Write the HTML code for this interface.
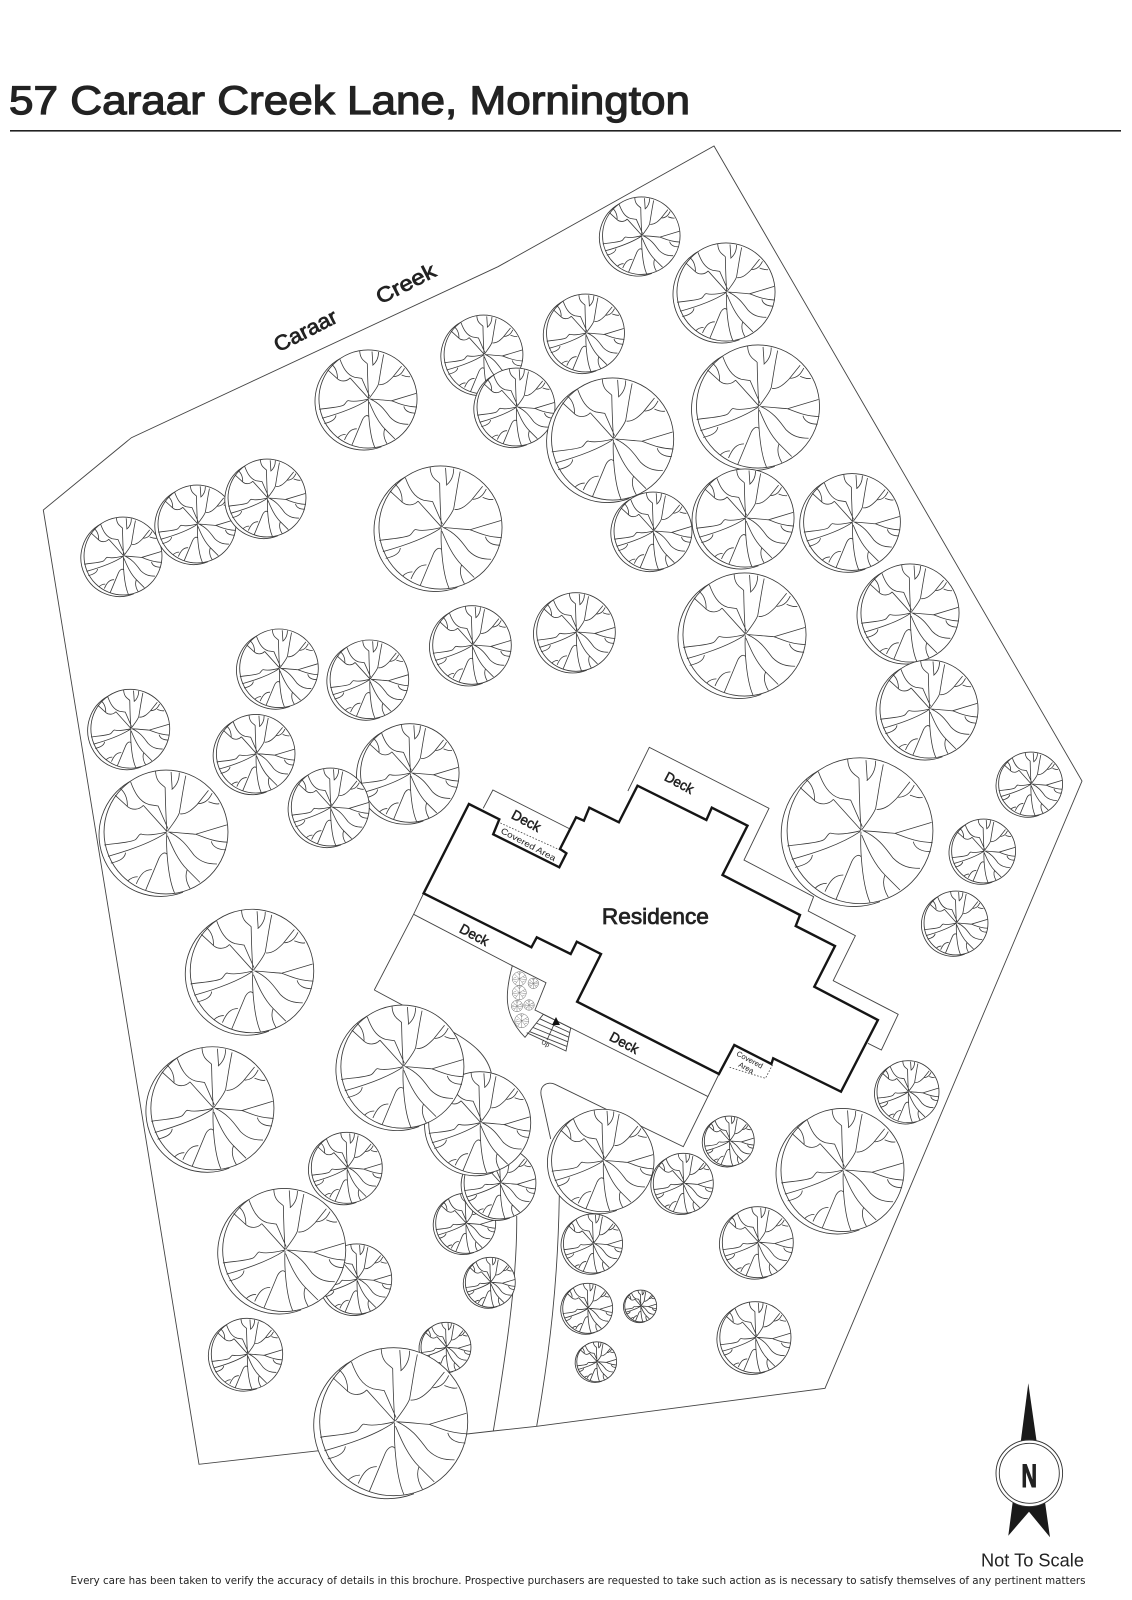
<!DOCTYPE html>
<html><head><meta charset="utf-8"><title>57 Caraar Creek Lane, Mornington</title>
<style>
html,body{margin:0;padding:0;background:#fff}
svg{display:block}
text{font-family:"Liberation Sans",sans-serif;fill:#222}
.l{fill:none;stroke:#444;stroke-width:.9}
.h{fill:none;stroke:#151515;stroke-width:2.4;stroke-linejoin:miter}
.b{text-anchor:middle;stroke:#222;stroke-width:.5}
.tc{fill:#fff;stroke:#3a3a3a;stroke-width:.85;vector-effect:non-scaling-stroke}
.tl{fill:none;stroke:#3a3a3a;stroke-width:.8;vector-effect:non-scaling-stroke}
.pc{fill:#fff;stroke:#666;stroke-width:.5;vector-effect:non-scaling-stroke}
.pl{fill:none;stroke:#666;stroke-width:.4;vector-effect:non-scaling-stroke}
</style></head>
<body>
<svg width="1132" height="1600" viewBox="0 0 1132 1600" xmlns="http://www.w3.org/2000/svg">
<defs>
<g id="t">
<path class="tc" d="M-125,-180A217.7,217.7 0 0 0 60,213"/>
<circle class="tc" cx="0" cy="0" r="219"/>
<path class="tl" d="M3,-4C0,-50-2,-100-3,-157C-10,-167-35,-172-37,-215M18,-212L22,-150M47,-210C47,-182 35,-162 20,-150M70,-199C60,-152 55,-112 47,-67C40,-47 22,-27 5,-2M50,-64C75,-62 95,-82 110,-97L150,-147M115,-100C145,-102 155,-122 163,-137M150,-107C165,-102 175,-97 188,-100M3,-2L-80,-94M-125,-177C-112,-142-95,-107-60,-97L-28,-92L7,-12M-80,-94C-95,-77-120,-77-135,-89L-180,-130M-162,-154C-140,-137-135,-107-137,-89M-218,46C-180,40-130,38-110,28C-100,23-95,3-85,8C-65,13-30,8 3,0M-205,86C-140,68-60,43 0,3M-143,73C-145,93-165,103-195,110M8,0C50,3 80,6 105,8L215,-25M105,8C135,18 160,33 218,36M160,33C165,53 185,63 212,63M10,0C60,23 80,58 100,83C125,108 150,113 180,113M3,3C0,48 5,158 30,215M5,13C20,48 40,98 75,133L120,178M75,133C65,158 75,183 85,200M-72,206L-25,93C-18,78-5,68 3,78M-50,133C-75,133-90,148-105,183M-100,158C-120,158-130,168-135,173"/>
</g>
<g id="p">
<circle class="pc" r="219"/>
<path class="pl" d="M0,0L0,-219M0,0L190,-110M0,0L219,30M0,0L130,175M0,0L0,219M0,0L-130,175M0,0L-219,40M0,0L-160,-150M0,-120L60,-200M0,-120L-60,-200M110,-60L190,-30M80,110L170,70M-80,110L-170,70M-100,-50L-190,-10"/>
</g>
</defs>

<rect width="1132" height="1600" fill="#fff"/>

<text x="9" y="114" font-size="40" textLength="681" lengthAdjust="spacingAndGlyphs" stroke="#222" stroke-width="1.2">57 Caraar Creek Lane, Mornington</text>
<rect x="10" y="130" width="1111" height="1.6" fill="#222"/>

<!-- boundary -->
<path class="l" d="M714,146L1082,781L825,1388.3L536.7,1426.3L493.3,1431L199,1464.3L43.3,510L131.4,437.7L498,266.7Z"/>

<!-- driveway -->
<path class="l" d="M374.3,990L453,1032C472,1043 488,1055 491.7,1075"/>
<path class="l" d="M516.7,1216C517.5,1280 505,1360 493.3,1431"/>
<path class="l" d="M559.3,1196C558,1280 550,1350 536.7,1426"/>
<path class="l" d="M550.7,1139L541.7,1098C538,1085 548,1081 555,1084.3L683.3,1146.7L719,1074"/>

<!-- decks -->
<path class="l" d="M483.2,808.3L492.9,790L570,829"/>
<path class="l" d="M627.9,791L649.3,747.3L769,808.3L744,860L813.6,896.7L808.2,911L855.4,935.7L833.2,980.7L898.2,1014.3L881.4,1050L867.9,1043.3"/>
<path class="l" d="M423.6,893.3L413.6,914.3L374.3,990"/>
<path class="l" d="M413.6,914.3L512.3,965.7L546,982.7L535,1010L708.2,1096.7"/>
<path class="l" d="M512.3,965.7C505,993 503,1015 525,1037.3L543.3,1014.3"/>
<path class="l" d="M543.3,1014.3L570.7,1028L566,1051L526.7,1032.7M539.9,1018.8L569.8,1032.6M536.5,1023.1L568.8,1037.2M533.1,1027.5L567.9,1041.8M529.8,1031.7L566.9,1046.4"/>
<path fill="none" stroke="#333" stroke-width=".8" d="M547,1040L556,1020"/>
<path fill="#111" d="M556,1017L552,1025L560,1025Z"/>
<text font-size="6.5" text-anchor="middle" transform="translate(544.5,1045.5) rotate(28)">Up</text>

<use href="#p" transform="translate(519.3 978.7) scale(.032)"/>
<use href="#p" transform="translate(533.3 983.3) scale(.024)"/>
<use href="#p" transform="translate(519.3 992.7) scale(.032)"/>
<use href="#p" transform="translate(517 1006) scale(.026)"/>
<use href="#p" transform="translate(529 1005) scale(.024)"/>
<use href="#p" transform="translate(521.7 1020.7) scale(.032)"/>

<!-- dotted covered lines -->
<path fill="none" stroke="#444" stroke-width=".8" stroke-dasharray="1.6 1.6" d="M497.5,821.7L560,850M729.6,1067.3L765.4,1078.3L772.5,1065"/>

<!-- house -->
<path class="h" d="M468.9,804L499.3,819.3L493.2,834.3L559.3,867.3L566.4,853.3L560,849L576.1,817.3L583.9,820.7L589.3,807.7L618.9,822.3L637.5,785.7L706.4,820L711.8,807.7L747.5,825.7L722.5,875L800,915L795.7,926L835,946L814.3,986.7L877.9,1020L841,1091.7L773.2,1058.3L771.4,1064L734.3,1045L718.9,1074L577.1,1001.7L601,954L576.8,941.7L570.7,954L536.8,937.3L531.4,947.3L423.6,893.3Z"/>

<!-- trees -->
<use href="#t" transform="translate(641.3 235.7) scale(.177)"/>
<use href="#t" transform="translate(726 292) scale(.224)"/>
<use href="#t" transform="translate(585.5 333) scale(.178)"/>
<use href="#t" transform="translate(483.5 354.5) scale(.18)"/>
<use href="#t" transform="translate(516 407) scale(.178)"/>
<use href="#t" transform="translate(612.6 439) scale(.279)"/>
<use href="#t" transform="translate(758 406.5) scale(.281)"/>
<use href="#t" transform="translate(368 399) scale(.224)"/>
<use href="#t" transform="translate(653 531) scale(.178)"/>
<use href="#t" transform="translate(745 518) scale(.224)"/>
<use href="#t" transform="translate(852 522) scale(.221)"/>
<use href="#t" transform="translate(440.5 527.5) scale(.281)"/>
<use href="#t" transform="translate(123 556) scale(.178)"/>
<use href="#t" transform="translate(197 524) scale(.178)"/>
<use href="#t" transform="translate(267 498) scale(.178)"/>
<use href="#t" transform="translate(279 668.3) scale(.1795)"/>
<use href="#t" transform="translate(369.4 679.3) scale(.1795)"/>
<use href="#t" transform="translate(472 645) scale(.1795)"/>
<use href="#t" transform="translate(130.3 728.7) scale(.18)"/>
<use href="#t" transform="translate(255.7 753.7) scale(.1795)"/>
<use href="#t" transform="translate(409.8 773) scale(.225)"/>
<use href="#t" transform="translate(330.3 807) scale(.178)"/>
<use href="#t" transform="translate(166 832) scale(.283)"/>
<use href="#t" transform="translate(252 971) scale(.282)"/>
<use href="#t" transform="translate(576 632) scale(.1795)"/>
<use href="#t" transform="translate(744.5 634.5) scale(.281)"/>
<use href="#t" transform="translate(910 613) scale(.224)"/>
<use href="#t" transform="translate(929 709) scale(.224)"/>
<use href="#t" transform="translate(860 830.7) scale(.333)"/>
<use href="#t" transform="translate(1030.6 784) scale(.146)"/>
<use href="#t" transform="translate(983.6 851) scale(.146)"/>
<use href="#t" transform="translate(956 923) scale(.146)"/>
<use href="#t" transform="translate(212.4 1108.3) scale(.281)"/>
<use href="#t" transform="translate(346.8 1167.8) scale(.162)"/>
<use href="#t" transform="translate(356.7 1279) scale(.16)"/>
<use href="#t" transform="translate(284.2 1250) scale(.281)"/>
<use href="#t" transform="translate(465.7 1223.3) scale(.137)"/>
<use href="#t" transform="translate(500 1183) scale(.164)"/>
<use href="#t" transform="translate(479.7 1122.7) scale(.233)"/>
<use href="#t" transform="translate(402.4 1066.6) scale(.281)"/>
<use href="#t" transform="translate(490.3 1282.3) scale(.114)"/>
<use href="#t" transform="translate(247 1354) scale(.163)"/>
<use href="#t" transform="translate(446 1347.3) scale(.114)"/>
<use href="#t" transform="translate(393.7 1421.7) scale(.338)"/>
<use href="#t" transform="translate(602.8 1160.5) scale(.234)"/>
<use href="#t" transform="translate(683.3 1183.3) scale(.137)"/>
<use href="#t" transform="translate(729.3 1141) scale(.114)"/>
<use href="#t" transform="translate(842.5 1170) scale(.281)"/>
<use href="#t" transform="translate(908 1091.7) scale(.1416)"/>
<use href="#t" transform="translate(593 1243.5) scale(.135)"/>
<use href="#t" transform="translate(757.8 1242.2) scale(.162)"/>
<use href="#t" transform="translate(587.7 1308.3) scale(.114)"/>
<use href="#t" transform="translate(640.7 1306) scale(.073)"/>
<use href="#t" transform="translate(755.4 1337.3) scale(.1625)"/>
<use href="#t" transform="translate(596.7 1361.7) scale(.091)"/>

<!-- labels -->
<text class="b" font-size="22" x="655.4" y="924" textLength="107" lengthAdjust="spacingAndGlyphs" style="stroke-width:.75">Residence</text>
<text class="b" font-size="21" transform="translate(308.7 337) rotate(-27)" textLength="68" lengthAdjust="spacingAndGlyphs" style="stroke-width:.75">Caraar</text>
<text class="b" font-size="21" transform="translate(409 290) rotate(-27)" textLength="64" lengthAdjust="spacingAndGlyphs" style="stroke-width:.75">Creek</text>
<text class="b" font-size="14" transform="translate(524 825) rotate(28)" textLength="31" lengthAdjust="spacingAndGlyphs">Deck</text>
<text class="b" font-size="14" transform="translate(677 787) rotate(28)" textLength="31" lengthAdjust="spacingAndGlyphs">Deck</text>
<text class="b" font-size="14" transform="translate(472 939) rotate(28)" textLength="31" lengthAdjust="spacingAndGlyphs">Deck</text>
<text class="b" font-size="14" transform="translate(622 1047) rotate(28)" textLength="31" lengthAdjust="spacingAndGlyphs">Deck</text>
<text font-size="8.6" text-anchor="middle" transform="translate(527 847) rotate(28)" textLength="61" lengthAdjust="spacingAndGlyphs">Covered Area</text>
<text font-size="7.6" text-anchor="middle" transform="translate(748.6 1062) rotate(28)">Covered</text>
<text font-size="7.6" text-anchor="middle" transform="translate(745 1070) rotate(28)">Area</text>

<!-- north arrow -->
<path fill="#1a1a1a" d="M1028.3,1383.3L1020.7,1442L1036.7,1442Z"/>
<path fill="#1a1a1a" d="M1012.7,1502L1008.3,1535.7L1029,1511.7L1050,1537.3L1045,1502Z"/>
<circle cx="1029.3" cy="1473.3" r="33.3" fill="#fff" stroke="#333" stroke-width=".9"/>
<circle cx="1029.3" cy="1473.3" r="30" fill="#fff" stroke="#333" stroke-width=".9"/>
<text font-size="32.5" font-weight="bold" text-anchor="middle" x="1029.2" y="1487" textLength="15.5" lengthAdjust="spacingAndGlyphs" stroke="#222" stroke-width="1.1">N</text>

<text font-size="18" x="981" y="1566.7" textLength="103" lengthAdjust="spacingAndGlyphs">Not To Scale</text>
<text font-size="10.5" x="70.5" y="1584" textLength="1015" lengthAdjust="spacingAndGlyphs" style="font-family:'DejaVu Sans',sans-serif">Every care has been taken to verify the accuracy of details in this brochure. Prospective purchasers are requested to take such action as is necessary to satisfy themselves of any pertinent matters</text>
</svg>
</body></html>
